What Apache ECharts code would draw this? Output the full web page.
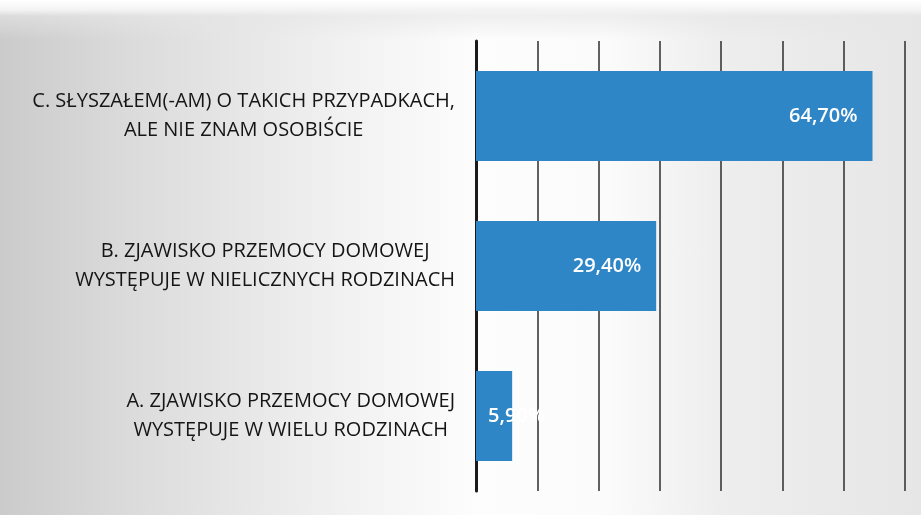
<!DOCTYPE html>
<html>
<head>
<meta charset="utf-8">
<script src="https://cdn.jsdelivr.net/npm/echarts@6/dist/echarts.min.js"></script>
<style>
  html, body { margin: 0; padding: 0; background: #fff; }
  #chart {
    width: 921px; height: 515px;
    background:
      linear-gradient(to bottom, #ffffff 0px, #f3f3f3 10px, rgba(230,230,230,0.6) 16px, rgba(255,255,255,0) 40px),
      linear-gradient(to right, #cbcbcb 0%, #dcdcdc 15%, #f2f2f2 38%, #fdfdfd 52%, #fbfbfb 66%, #eeeeee 78%, #e6e6e6 100%);
  }
</style>
</head>
<body>
<div id="chart"></div>
<script>
  // kategorie od dołu do góry
  const categories = [
    'A. ZJAWISKO PRZEMOCY DOMOWEJ\nWYSTĘPUJE W WIELU RODZINACH',
    'B. ZJAWISKO PRZEMOCY DOMOWEJ\nWYSTĘPUJE W NIELICZNYCH RODZINACH',
    'C. SŁYSZAŁEM(-AM) O TAKICH PRZYPADKACH,\nALE NIE ZNAM OSOBIŚCIE'
  ];
  const values = [5.9, 29.4, 64.7];
  const axisMax = 70;
  const axisStep = 10;

  const fmt = (v) => v.toFixed(2).replace('.', ',') + '%';

  let chart = echarts.init(document.getElementById('chart'));
  let option = {
    animation: false,
    grid: {
      left: 476,
      right: 16,
      top: 41,
      bottom: 24,
      containLabel: false
    },
    xAxis: {
      type: 'value',
      min: 0,
      max: axisMax,
      interval: axisStep,
      axisLabel: { show: false },
      axisLine: { show: false },
      axisTick: { show: false },
      splitLine: {
        show: true,
        lineStyle: { color: '#2e2e2e', width: 1.5 }
      }
    },
    yAxis: {
      type: 'category',
      data: categories,
      axisTick: { show: false },
      axisLine: {
        show: true,
        lineStyle: { color: '#1a1a1a', width: 3 }
      },
      axisLabel: {
        margin: 21,
        align: 'right',
        formatter: (val) => val.split('\n').map((s) => '{t|' + s + '}').join('\n'),
        rich: {
          t: {
            align: 'center',
            color: '#151515',
            fontFamily: 'Open Sans',
            fontSize: 20,
            lineHeight: 29
          }
        }
      }
    },
    series: [
      {
        type: 'bar',
        data: values.map((v, i) => ({
          value: v,
          // najmniejszy słupek: etykieta wychodzi poza słupek (biała na białym)
          label: i === 0 ? { position: 'insideLeft', distance: 12 } : {}
        })),
        barCategoryGap: '40%',
        itemStyle: { color: '#2f86c6' },
        label: {
          show: true,
          position: 'insideRight',
          distance: 15,
          color: '#ffffff',
          fontFamily: 'Open Sans',
          fontWeight: 600,
          fontSize: 20,
          formatter: (p) => fmt(p.value)
        }
      }
    ]
  };
  chart.setOption(option, true);
  window.addEventListener('resize', function () {
    chart.resize();
  });
</script>
</body>
</html>
